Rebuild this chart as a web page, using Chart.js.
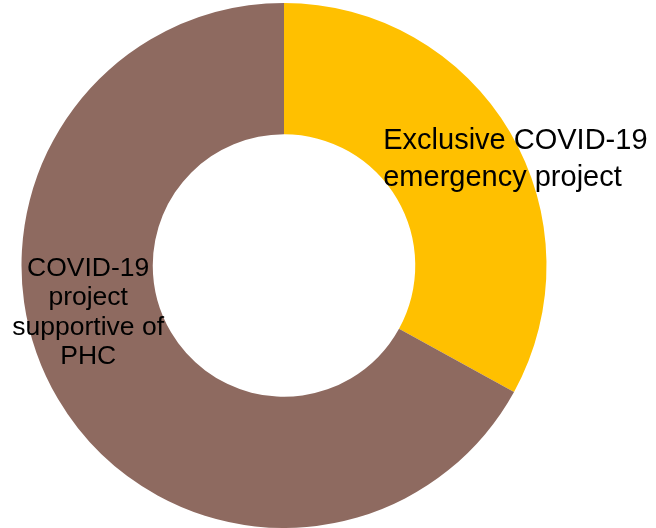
<!DOCTYPE html>
<html>
<head>
<meta charset="utf-8">
<script src="https://cdn.jsdelivr.net/npm/chart.js@4"></script>
<style>
  html, body { margin: 0; padding: 0; background: #fff; }
  #wrap { width: 656px; height: 528px; }
</style>
</head>
<body>
<div id="wrap"><canvas id="myChart"></canvas></div>
<script>
// project types and their shares (%)
var categories = ['Exclusive COVID-19 emergency project', 'COVID-19 project supportive of PHC'];
var shares = [33, 67];
var colors = ['#FFC000', '#8E6A60'];

// slice labels, split into lines the way they sit on the ring
var labelLines = [
    ['Exclusive COVID-19', 'emergency project'],
    ['COVID-19', 'project', 'supportive of', 'PHC']
];

// draws the text labels, placed relative to the ring's centre and radius
var ringLabels = {
    id: 'ringLabels',
    afterDraw: function(chart){
        var arc = chart.getDatasetMeta(0).data[0];
        if(!arc) return;
        var cx = arc.x, cy = arc.y, r = arc.outerRadius;
        var ctx = chart.ctx;
        ctx.save();
        ctx.fillStyle = '#000';
        ctx.textBaseline = 'middle';

        ctx.font = '29px "Liberation Sans", Arial, sans-serif';
        ctx.textAlign = 'left';
        labelLines[0].forEach(function(line, i){
            ctx.fillText(line, cx + 0.378 * r, cy - 0.473 * r + i * 36.5);
        });

        ctx.font = '26.5px "Liberation Sans", Arial, sans-serif';
        ctx.textAlign = 'center';
        labelLines[1].forEach(function(line, i){
            ctx.fillText(line, cx - 0.746 * r, cy + 0.012 * r + i * 29.5);
        });
        ctx.restore();
    }
};

var ctx = document.getElementById('myChart').getContext('2d');
var myDoughnut = new Chart(ctx, {
    type: 'doughnut',
    data: {
        labels: categories,
        datasets: [{
            data: shares,
            backgroundColor: colors,
            borderWidth: 0
        }]
    },
    options: {
        responsive: true,
        maintainAspectRatio: false,
        animation: false,
        cutout: '50%',
        layout: { padding: { left: 21, right: 109, top: 3, bottom: 0 } },
        plugins: {
            legend: { display: false },
            tooltip: { enabled: false }
        }
    },
    plugins: [ringLabels]
});
</script>
</body>
</html>
